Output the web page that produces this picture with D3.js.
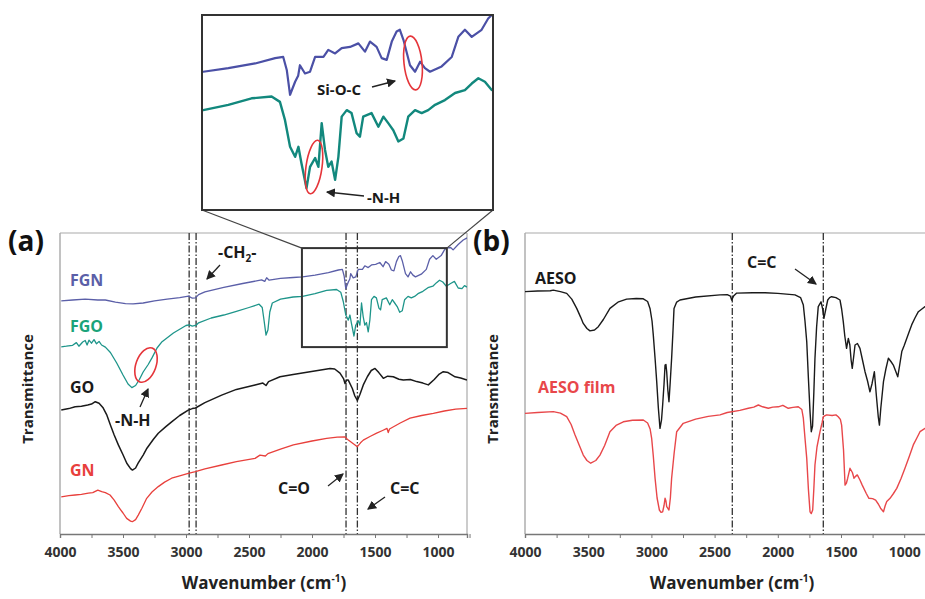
<!DOCTYPE html>
<html>
<head>
<meta charset="utf-8">
<script src="https://cdn.jsdelivr.net/npm/d3@7"></script>
<style>
  body { margin: 0; background: #fff; }
  text { font-family: "Open Sans", "Noto Sans", sans-serif; font-weight: bold; }
</style>
</head>
<body>
<div id="chart"></div>
<script>
// spectra as [wavenumber, transmittance (a.u.)]
var fgn = [[3990,77.7],[3900,78],[3800,78.3],[3700,78],[3640,78],[3560,77.3],[3480,76.8],[3420,76.7],[3340,77],[3250,77.7],[3150,78.3],[3050,78.8],[2980,79.3],[2950,78.6],[2925,78.7],[2900,79.8],[2850,80.7],[2700,82.2],[2550,83.5],[2400,84.7],[2375,84.2],[2360,85.4],[2340,84.6],[2250,85.2],[2150,85.5],[2075,85.7],[1976,86.3],[1870,87.1],[1791,88.0],[1759,88.2],[1745,86],[1732,81.8],[1712,84.0],[1700,85],[1693,86.8],[1673,85.4],[1653,85.7],[1633,88.2],[1600,88.2],[1581,89.4],[1554,88.8],[1528,89.7],[1495,89.9],[1462,90.5],[1436,89.1],[1416,90.8],[1390,89.9],[1370,88.0],[1350,87.7],[1330,90.8],[1311,92.5],[1298,92.8],[1284,91.1],[1258,86.8],[1238,85.7],[1218,87.4],[1199,86.3],[1179,85.7],[1133,86.6],[1093,88.2],[1067,91.6],[1041,92.8],[1014,91.6],[975,92.8],[949,94.7],[935,95.3],[900,95.5],[880,94.7],[840,96.5],[800,98],[770,98.7]]
var fgo = [[3990,62.4],[3950,62.6],[3900,62.9],[3870,63.8],[3850,62.6],[3820,64],[3800,64.5],[3785,63],[3770,64.6],[3750,63.6],[3730,64.8],[3710,63.4],[3690,64.2],[3670,63],[3640,62.3],[3600,60.5],[3550,57],[3500,53],[3460,50],[3430,48.8],[3400,49.5],[3370,51.5],[3340,54],[3300,56.5],[3270,58.7],[3230,62],[3190,64.1],[3100,67],[3000,69.5],[2975,69.7],[2950,69.3],[2920,69.6],[2900,70.4],[2800,72],[2700,73],[2600,74.2],[2500,75.5],[2420,76.6],[2395,75.5],[2380,71],[2365,66.3],[2350,68],[2335,74],[2315,77],[2250,78.3],[2150,79],[2075,79.2],[1976,80.1],[1884,81.2],[1805,81.5],[1772,80.6],[1752,77.5],[1732,73.0],[1712,71.3],[1699,73.0],[1687,70.2],[1667,66.0],[1653,69.6],[1633,71.1],[1620,69.6],[1607,77.0],[1594,72.5],[1581,69.6],[1568,70.5],[1554,67.4],[1541,71.3],[1528,78.1],[1508,79.2],[1489,78.7],[1469,75.3],[1456,74.7],[1443,78.1],[1410,78.7],[1383,76.4],[1363,78.1],[1344,77.0],[1324,75.8],[1304,73.9],[1284,74.4],[1265,78.1],[1238,79.2],[1212,78.7],[1186,79.2],[1159,80.1],[1120,80.9],[1080,82.1],[1041,82.6],[1014,83.7],[988,84.6],[962,84.0],[935,82.6],[900,83.5],[870,84.2],[840,82],[810,81.8],[790,82.8],[770,82.3]]
var go = [[3990,41.3],[3930,41.8],[3880,42.4],[3830,42.6],[3780,43],[3750,43.3],[3720,44.1],[3690,43.6],[3660,42.2],[3630,39.8],[3600,36.3],[3570,33],[3537,29.7],[3500,26.4],[3470,23.6],[3440,21.8],[3425,21.3],[3400,22],[3380,23.6],[3340,26.3],[3310,28.6],[3260,31.5],[3220,33.6],[3160,35.8],[3114,37.4],[3050,39.5],[2982,41.3],[2950,41.8],[2925,42],[2850,43.8],[2717,46.3],[2600,48.2],[2452,49.7],[2390,50.3],[2365,49.5],[2345,50.8],[2254,52.4],[2150,53.2],[2016,54.1],[1930,54.7],[1857,55.2],[1820,55],[1778,53.6],[1750,51.8],[1738,50.2],[1725,51.3],[1712,51.3],[1680,48.5],[1660,46],[1640,44.5],[1620,46.5],[1593,49.7],[1560,52.5],[1530,54.5],[1500,55.2],[1470,53.8],[1434,51.9],[1400,52.6],[1355,52.4],[1310,51.6],[1275,51.3],[1220,51.5],[1169,50.8],[1120,50.3],[1077,49.7],[1030,51.5],[990,53.3],[958,54.1],[920,53.8],[865,52.4],[820,52],[770,51.3]]
var gn = [[3990,12.4],[3930,12.8],[3880,13],[3830,13.2],[3775,13.6],[3740,13.8],[3700,14.6],[3669,14.1],[3640,13.8],[3603,13],[3570,11.3],[3537,9.1],[3500,7],[3471,5.2],[3440,4.3],[3426,4.1],[3400,4.8],[3379,6.3],[3350,8.6],[3312,11.9],[3270,14],[3220,15.8],[3170,17.3],[3114,18.6],[3050,19.4],[2982,20.2],[2925,20.8],[2850,21.7],[2717,23],[2600,24.1],[2452,25.2],[2413,26.3],[2370,26],[2350,26.8],[2250,28.3],[2148,29.7],[2000,31],[1884,31.9],[1800,32.3],[1740,32.4],[1712,31.3],[1680,30.3],[1640,29.1],[1615,30.4],[1593,31.3],[1540,32.5],[1487,33.6],[1440,34.5],[1405,35.2],[1395,33.8],[1385,35],[1300,37],[1222,38.6],[1130,39.5],[1037,40.2],[950,41],[860,41.6],[770,41.9]]
var aeso = [[4000,80.8],[3900,81],[3800,81.1],[3776,81.3],[3720,80.8],[3670,80.2],[3630,78.3],[3591,75.2],[3560,72.3],[3539,70.2],[3510,68.5],[3486,67.7],[3450,68],[3420,69.1],[3380,71.5],[3328,75.2],[3260,77.4],[3196,78.3],[3120,78.5],[3064,78.4],[3030,77.5],[3011,75.2],[2995,71],[2985,66.3],[2970,58],[2958,50.8],[2945,42],[2932,35.2],[2920,38],[2911,43],[2900,50],[2892,56.3],[2885,56.5],[2879,54.1],[2870,48],[2861,44.1],[2852,50],[2840,58.6],[2830,67],[2821,75.2],[2800,77.3],[2774,78],[2650,79],[2457,79.7],[2400,79.8],[2375,79.3],[2365,78],[2350,79.3],[2325,80.3],[2200,80.4],[2101,80.4],[2000,80.2],[1864,79.7],[1820,78.8],[1798,76.3],[1785,71],[1771,64.1],[1758,52],[1745,40.8],[1735,34.1],[1725,36],[1715,47],[1706,58.6],[1693,69],[1680,75.8],[1658,77.4],[1645,75],[1635,71.9],[1620,75],[1605,78],[1590,78.8],[1574,79.1],[1540,78.8],[1508,78],[1495,75],[1482,70.8],[1470,66],[1456,61.9],[1442,65.2],[1430,63],[1420,58],[1411,55.2],[1400,59],[1389,63],[1370,63.5],[1350,61.9],[1330,58],[1310,54.1],[1290,51],[1271,47.4],[1255,50],[1236,54.1],[1220,46],[1205,39],[1196,36.3],[1185,42],[1164,50.8],[1145,55],[1125,58.6],[1105,57.5],[1086,56.3],[1065,54],[1051,52.4],[1035,56.5],[1019,60.8],[1000,62.8],[980,65.2],[960,67.5],[941,69.7],[915,72],[888,74.1],[860,75],[835,75.8],[800,76.3]]
var aesoFilm = [[4000,40.2],[3900,40.5],[3776,40.8],[3720,40.3],[3670,39.1],[3635,36.5],[3604,33],[3570,29.5],[3539,26.3],[3510,24.5],[3480,23.6],[3440,24.5],[3407,26.3],[3370,29.5],[3328,34.1],[3280,36.2],[3222,37.4],[3150,37.9],[3064,38],[3030,37],[3010,35],[2998,31.9],[2985,26],[2971,18.6],[2955,12],[2937,8],[2924,7.2],[2911,7.4],[2900,9.5],[2892,11.9],[2885,11],[2879,9.1],[2861,8],[2850,12],[2840,18.6],[2820,27],[2800,34.1],[2748,36.9],[2650,38.3],[2550,39.2],[2457,39.7],[2400,40.5],[2300,41.2],[2233,41.9],[2190,42.3],[2154,43],[2120,42.4],[2075,41.9],[2040,42.3],[1996,42.4],[1960,42.9],[1917,41.9],[1880,42.2],[1838,42.4],[1810,41.5],[1798,38.6],[1785,32],[1771,25.2],[1758,15],[1745,7.4],[1735,6.8],[1724,8],[1715,15],[1706,23],[1690,29],[1666,34.1],[1650,37],[1640,39.1],[1614,39.7],[1570,39.5],[1540,39.7],[1522,39.1],[1505,38.2],[1495,36.3],[1480,28],[1468,16.3],[1457,17],[1447,18.6],[1429,21.9],[1410,20.5],[1397,18.6],[1385,19.2],[1371,19.7],[1350,18],[1332,16.3],[1300,13.5],[1279,11.9],[1250,11.8],[1226,11.3],[1205,10],[1187,8.6],[1164,7.4],[1150,9.5],[1138,10.8],[1112,11.9],[1085,13.5],[1059,15.2],[1025,18.5],[994,21.9],[960,25.8],[928,29.7],[900,32],[875,34.1],[835,35.2],[800,35.5]]

var markerLinesA = [2975, 2920, 1730, 1640]
var markerLinesB = [2360, 1640]
var tickValues = d3.range(4000, 740, -250)

var W = 925, H = 599
var plotTop = 233, plotBottom = 534

var svg = d3.select("#chart").append("svg")
    .attr("width", W)
    .attr("height", H)

var defs = svg.append("defs")
defs.append("marker")
    .attr("id", "arrow")
    .attr("viewBox", "0 0 8 8")
    .attr("refX", 7).attr("refY", 4)
    .attr("markerWidth", 7).attr("markerHeight", 7)
    .attr("orient", "auto")
    .append("path").attr("d", "M0,0 L8,4 L0,8 z").attr("fill", "#222")

var xA = d3.scaleLinear().domain([4000, 770]).range([60, 467])
var xB = d3.scaleLinear().domain([4000, 750]).range([525, 525 + 3250 * 0.1264])
var y = d3.scaleLinear().domain([0, 100]).range([plotBottom, plotTop + 1])

// inset = zoom of the small box in panel (a)
var boxW = [2080, 930], boxT = [62.3, 95.3]
var xIn = d3.scaleLinear().domain(boxW).range([202, 493])
var yIn = d3.scaleLinear().domain(boxT).range([210, 15])

defs.append("clipPath").attr("id", "clipA").append("rect")
    .attr("x", 60).attr("y", plotTop).attr("width", 407).attr("height", plotBottom - plotTop)
defs.append("clipPath").attr("id", "clipIn").append("rect")
    .attr("x", 203).attr("y", 16).attr("width", 289).attr("height", 193)

function drawAxis(x, g) {
    g.attr("transform", "translate(0," + plotBottom + ")")
        .call(d3.axisBottom(x).tickValues(tickValues).tickSize(4).tickPadding(9)
            .tickFormat(function(d) { return d % 500 === 0 ? d : "" }))
    g.select(".domain").attr("stroke", "#777").attr("stroke-width", 1.4)
    g.selectAll(".tick line").attr("stroke", "#777")
    g.selectAll(".tick text").attr("font-size", "14px").attr("fill", "#333")
        .attr("font-family", "Open Sans").attr("font-weight", "bold")
}

function dashLine(g, x, wn) {
    g.append("line")
        .attr("x1", x(wn)).attr("x2", x(wn))
        .attr("y1", plotTop).attr("y2", plotBottom)
        .attr("stroke", "#333").attr("stroke-width", 1.3)
        .attr("stroke-dasharray", "7,2,1.5,2")
}

function curve(g, x, yy, data, color, width) {
    var line = d3.line().x(function(d) { return x(d[0]) }).y(function(d) { return yy(d[1]) })
    g.append("path").datum(data)
        .attr("d", line)
        .attr("fill", "none")
        .attr("stroke", color)
        .attr("stroke-width", width)
        .attr("stroke-linejoin", "round")
}

function label(x, yy, txt, color, size, anchor) {
    return svg.append("text").attr("x", x).attr("y", yy)
        .attr("fill", color).attr("font-size", size + "px")
        .attr("text-anchor", anchor || "start")
        .text(txt)
}

function arrow(x1, y1, x2, y2) {
    svg.append("line").attr("x1", x1).attr("y1", y1).attr("x2", x2).attr("y2", y2)
        .attr("stroke", "#222").attr("stroke-width", 1.3)
        .attr("marker-end", "url(#arrow)")
}

// ---------- panel (a) ----------
var pa = svg.append("g")
pa.append("line").attr("x1", 60).attr("x2", 60).attr("y1", plotTop).attr("y2", plotBottom).attr("stroke", "#999").attr("stroke-width", 1.2)
pa.append("line").attr("x1", 60).attr("x2", 467).attr("y1", plotTop).attr("y2", plotTop).attr("stroke", "#aaa").attr("stroke-width", 1.2)
pa.append("line").attr("x1", 467).attr("x2", 467).attr("y1", plotTop).attr("y2", plotBottom).attr("stroke", "#aaa").attr("stroke-width", 1.2)
markerLinesA.forEach(function(w) { dashLine(pa, xA, w) })
var ca = pa.append("g").attr("clip-path", "url(#clipA)")
curve(ca, xA, y, fgn, "#5b5fa8", 1.3)
curve(ca, xA, y, fgo, "#1e958a", 1.3)
curve(ca, xA, y, go, "#1a1a1a", 1.5)
curve(ca, xA, y, gn, "#e8403c", 1.3)
drawAxis(xA, pa.append("g"))

// small box and connector lines
pa.append("rect")
    .attr("x", xA(boxW[0])).attr("y", y(boxT[1]))
    .attr("width", xA(boxW[1]) - xA(boxW[0])).attr("height", y(boxT[0]) - y(boxT[1]))
    .attr("fill", "none").attr("stroke", "#333").attr("stroke-width", 2)
svg.append("line").attr("x1", 202).attr("y1", 210).attr("x2", xA(boxW[0])).attr("y2", y(boxT[1])).attr("stroke", "#444").attr("stroke-width", 1.2)
svg.append("line").attr("x1", 493).attr("y1", 210).attr("x2", xA(boxW[1])).attr("y2", y(boxT[1])).attr("stroke", "#444").attr("stroke-width", 1.2)

// inset
svg.append("rect").attr("x", 202).attr("y", 15).attr("width", 291).attr("height", 195)
    .attr("fill", "#fff").attr("stroke", "#333").attr("stroke-width", 2)
var ci = svg.append("g").attr("clip-path", "url(#clipIn)")
curve(ci, xIn, yIn, fgn, "#4b50a6", 2.2)
curve(ci, xIn, yIn, fgo, "#12887d", 2.4)

// ---------- panel (b) ----------
var pb = svg.append("g")
pb.append("line").attr("x1", 525).attr("x2", 525).attr("y1", plotTop).attr("y2", plotBottom).attr("stroke", "#999").attr("stroke-width", 1.2)
pb.append("line").attr("x1", 525).attr("x2", W).attr("y1", plotTop).attr("y2", plotTop).attr("stroke", "#aaa").attr("stroke-width", 1.2)
markerLinesB.forEach(function(w) { dashLine(pb, xB, w) })
curve(pb, xB, y, aeso, "#1a1a1a", 1.4)
curve(pb, xB, y, aesoFilm, "#e8474a", 1.4)
drawAxis(xB, pb.append("g"))

// ---------- text ----------
label(8, 251, "(a)", "#111", 28)
label(473, 251, "(b)", "#111", 28)
label(70, 286, "FGN", "#5b5fa8", 16)
label(70, 332, "FGO", "#1aa37a", 16)
label(70, 393, "GO", "#1a1a1a", 16)
label(70, 476, "GN", "#e8403c", 16)
label(535, 284, "AESO", "#1a1a1a", 16)
label(538, 393, "AESO film", "#e8474a", 16)

var ch2 = label(218, 258, "-CH", "#1a1a1a", 16)
ch2.append("tspan").attr("font-size", "10px").attr("dy", 4).text("2")
ch2.append("tspan").attr("dy", -4).text("-")
arrow(220, 265, 207, 279)

label(115, 426, "-N-H", "#1a1a1a", 16)
arrow(140, 407, 148, 389)
label(278, 494, "C=O", "#1a1a1a", 16)
arrow(328, 486, 343, 474)
label(390, 494, "C=C", "#1a1a1a", 16)
arrow(385, 497, 368, 509)
label(747, 268, "C=C", "#1a1a1a", 16)
arrow(795, 269, 816, 284)

label(317, 95, "Si-O-C", "#1a1a1a", 15)
arrow(372, 87, 395, 81)
label(367, 203, "-N-H", "#1a1a1a", 15)
arrow(364, 196, 327, 192)

// red ellipses
function ring(cx, cy, rx, ry, rot) {
    svg.append("ellipse").attr("cx", 0).attr("cy", 0).attr("rx", rx).attr("ry", ry)
        .attr("transform", "translate(" + cx + "," + cy + ") rotate(" + rot + ")")
        .attr("fill", "none").attr("stroke", "#e5353a").attr("stroke-width", 1.6)
}
ring(146, 365, 10, 18, 20)
ring(413, 63, 9, 27, -6)
ring(314, 167, 8, 27, 8)

// axis titles
svg.append("text").attr("transform", "translate(33,389) rotate(-90)")
    .attr("text-anchor", "middle").attr("font-size", "15px").attr("fill", "#222").text("Transmittance")
svg.append("text").attr("transform", "translate(498,389) rotate(-90)")
    .attr("text-anchor", "middle").attr("font-size", "15px").attr("fill", "#222").text("Transmittance")

function xTitle(cx) {
    var t = svg.append("text").attr("x", cx).attr("y", 589).attr("text-anchor", "middle")
        .attr("font-size", "17px").attr("fill", "#222").text("Wavenumber (cm")
    t.append("tspan").attr("font-size", "10px").attr("dy", -7).text("-1")
    t.append("tspan").attr("dy", 7).text(")")
}
xTitle(264)
xTitle(732)
</script>
</body>
</html>
